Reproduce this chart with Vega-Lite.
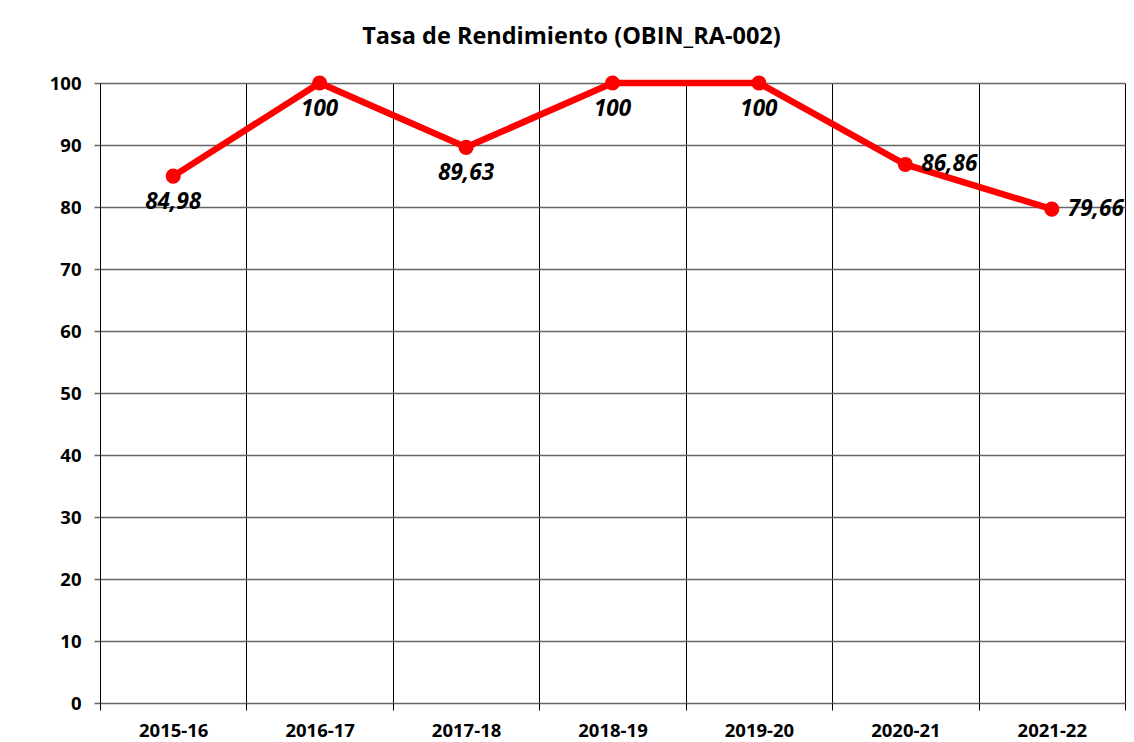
{
  "$schema": "https://vega.github.io/schema/vega-lite/v6.json",
  "width": 1025,
  "height": 620,
  "autosize": {"type": "none"},
  "padding": {"left": 100, "top": 83, "right": 9, "bottom": 39},
  "background": "white",
  "config": {
    "locale": {"number": {"decimal": ",", "thousands": ".", "grouping": [3], "currency": ["", " €"]}},
    "view": {"stroke": null},
    "font": "Open Sans"
  },
  "title": {
    "text": "Tasa de Rendimiento (OBIN_RA-002)",
    "font": "Open Sans",
    "fontSize": 23.5,
    "fontWeight": "bold",
    "color": "black",
    "anchor": "middle",
    "dx": -41,
    "offset": 22
  },
  "data": {
    "values": [
      {"year": "2015-16", "tasa": 84.98},
      {"year": "2016-17", "tasa": 100},
      {"year": "2017-18", "tasa": 89.63},
      {"year": "2018-19", "tasa": 100},
      {"year": "2019-20", "tasa": 100},
      {"year": "2020-21", "tasa": 86.86},
      {"year": "2021-22", "tasa": 79.66}
    ]
  },
  "encoding": {
    "x": {
      "field": "year",
      "type": "nominal",
      "sort": null,
      "scale": {"paddingInner": 0, "paddingOuter": 0},
      "axis": {
        "title": null,
        "labelAngle": 0,
        "tickBand": "extent",
        "grid": true,
        "gridColor": "#000000",
        "gridWidth": 1,
        "domain": false,
        "ticks": true,
        "tickColor": "#000000",
        "tickSize": 7,
        "labelFontSize": 18.5,
        "labelFontWeight": "bold",
        "labelColor": "black",
        "labelPadding": 11
      }
    },
    "y": {
      "field": "tasa",
      "type": "quantitative",
      "scale": {"domain": [0, 100], "nice": false},
      "axis": {
        "title": null,
        "values": [0, 10, 20, 30, 40, 50, 60, 70, 80, 90, 100],
        "grid": true,
        "gridColor": "#666666",
        "gridWidth": 1.5,
        "domain": true,
        "domainColor": "#000000",
        "domainWidth": 1,
        "tickColor": "#666666",
        "tickSize": 6,
        "tickWidth": 1.5,
        "labelFontSize": 18.5,
        "labelFontWeight": "bold",
        "labelColor": "black",
        "labelPadding": 13
      }
    }
  },
  "layer": [
    {"mark": {"type": "line", "color": "#ff0000", "strokeWidth": 6.5}},
    {"mark": {"type": "point", "filled": true, "color": "#ff0000", "size": 230, "opacity": 1}},
    {
      "transform": [{"filter": "datum.year < '2020-21'"}],
      "mark": {"type": "text", "dy": 26, "fontSize": 22.5, "fontWeight": "bold", "fontStyle": "italic", "color": "black"},
      "encoding": {"text": {"field": "tasa", "type": "quantitative", "format": "~r"}}
    },
    {
      "transform": [{"filter": "datum.year >= '2020-21'"}],
      "mark": {"type": "text", "align": "left", "dx": 16, "dy": 0, "fontSize": 22.5, "fontWeight": "bold", "fontStyle": "italic", "color": "black"},
      "encoding": {"text": {"field": "tasa", "type": "quantitative", "format": "~r"}}
    }
  ]
}
